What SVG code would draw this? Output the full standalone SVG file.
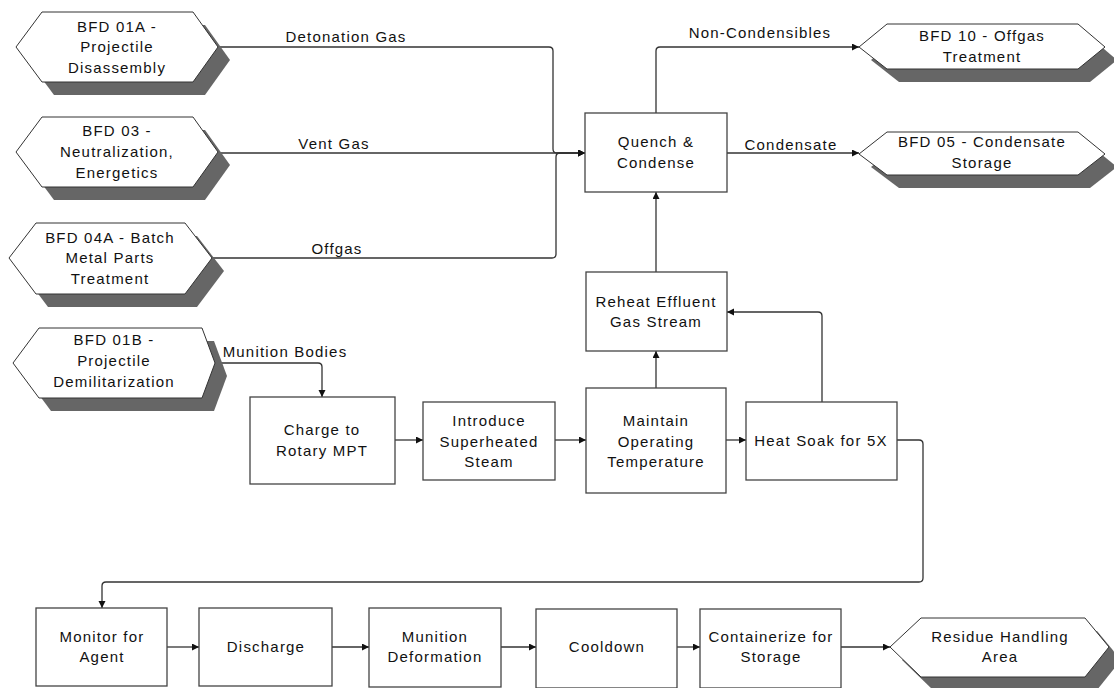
<svg xmlns="http://www.w3.org/2000/svg" width="1114" height="688" viewBox="0 0 1114 688">
<style>
.box{fill:#fff;stroke:#444;stroke-width:1.3}
.hex{fill:#fff;stroke:#333;stroke-width:1}
.sh{fill:#666;stroke:none}
.t{font-family:"Liberation Sans",Arial,sans-serif;font-size:15px;letter-spacing:1.2px;fill:#111;text-anchor:middle}
.c{fill:none;stroke:#333;stroke-width:1.3}
</style>
<defs>
<marker id="ah" markerUnits="userSpaceOnUse" markerWidth="8" markerHeight="8" refX="7" refY="3.5" orient="auto">
<path d="M0,0 L7,3.5 L0,7 z" fill="#111"/>
</marker>
</defs>
<rect width="1114" height="688" fill="#fff"/>
<g id="connectors">
<path class="c" d="M218,47 H549 Q553,47 553,51 V149 Q553,153 557,153 H585" marker-end="url(#ah)"/>
<path class="c" d="M218,153 H585" marker-end="url(#ah)"/>
<path class="c" d="M212,258 H552 Q556,258 556,254 V157 Q556,153 560,153 H585" marker-end="url(#ah)"/>
<path class="c" d="M656,113 V51 Q656,47 660,47 H859" marker-end="url(#ah)"/>
<path class="c" d="M727,153 H859" marker-end="url(#ah)"/>
<path class="c" d="M656,272 V192" marker-end="url(#ah)"/>
<path class="c" d="M656,388 V351" marker-end="url(#ah)"/>
<path class="c" d="M822,402 V316 Q822,312 818,312 H727" marker-end="url(#ah)"/>
<path class="c" d="M215,363 H318 Q322,363 322,367 V397" marker-end="url(#ah)"/>
<path class="c" d="M395,440 H423" marker-end="url(#ah)"/>
<path class="c" d="M555,440 H586" marker-end="url(#ah)"/>
<path class="c" d="M726,440 H746" marker-end="url(#ah)"/>
<path class="c" d="M897,440 H919 Q923,440 923,444 V578 Q923,582 919,582 H106 Q102,582 102,586 V608" marker-end="url(#ah)"/>
<path class="c" d="M167,647 H199" marker-end="url(#ah)"/>
<path class="c" d="M332,647 H369" marker-end="url(#ah)"/>
<path class="c" d="M501,647 H536" marker-end="url(#ah)"/>
<path class="c" d="M677,647 H700" marker-end="url(#ah)"/>
<path class="c" d="M841,647 H890" marker-end="url(#ah)"/>
<text class="t" x="346" y="42">Detonation Gas</text>
<text class="t" x="334" y="149">Vent Gas</text>
<text class="t" x="337" y="254">Offgas</text>
<text class="t" x="760" y="38">Non-Condensibles</text>
<text class="t" x="791" y="150">Condensate</text>
<text class="t" x="285" y="357">Munition Bodies</text>
</g>
<g id="bfd01a">
<polygon class="sh" points="28,60 54,25 205,25 230,60 205,95 54,95"/>
<polygon class="hex" points="16,47 42,12 193,12 218,47 193,82 42,82"/>
<text class="t" x="117" y="32">BFD 01A -</text>
<text class="t" x="117" y="52">Projectile</text>
<text class="t" x="117" y="73">Disassembly</text>
</g>
<g id="bfd03">
<polygon class="sh" points="28,165 54,130 205,130 230,165 205,200 54,200"/>
<polygon class="hex" points="16,152 42,117 193,117 218,152 193,187 42,187"/>
<text class="t" x="117" y="136">BFD 03 -</text>
<text class="t" x="117" y="157">Neutralization,</text>
<text class="t" x="117" y="178">Energetics</text>
</g>
<g id="bfd04a">
<polygon class="sh" points="21,271 48,236 197,236 224,271 197,307 48,307"/>
<polygon class="hex" points="9,258 36,223 185,223 212,258 185,294 36,294"/>
<text class="t" x="110" y="243">BFD 04A - Batch</text>
<text class="t" x="110" y="263">Metal Parts</text>
<text class="t" x="110" y="284">Treatment</text>
</g>
<g id="bfd01b">
<polygon class="sh" points="25,376 51,341 214,341 227,376 214,411 51,411"/>
<polygon class="hex" points="13,363 39,328 202,328 215,363 202,398 39,398"/>
<text class="t" x="114" y="345">BFD 01B -</text>
<text class="t" x="114" y="366">Projectile</text>
<text class="t" x="114" y="387">Demilitarization</text>
</g>
<g id="bfd10">
<polygon class="sh" points="871,60 899,37 1090,37 1117,60 1090,82 899,82"/>
<polygon class="hex" points="859,47 887,24 1078,24 1105,47 1078,69 887,69"/>
<text class="t" x="982" y="41">BFD 10 - Offgas</text>
<text class="t" x="982" y="62">Treatment</text>
</g>
<g id="bfd05">
<polygon class="sh" points="871,167 899,145 1090,145 1117,167 1090,188 899,188"/>
<polygon class="hex" points="859,154 887,132 1078,132 1105,154 1078,175 887,175"/>
<text class="t" x="982" y="147">BFD 05 - Condensate</text>
<text class="t" x="982" y="168">Storage</text>
</g>
<g id="quench">
<rect class="box" x="585" y="113" width="142" height="79"/>
<text class="t" x="656" y="147">Quench &amp;</text>
<text class="t" x="656" y="168">Condense</text>
</g>
<g id="reheat">
<rect class="box" x="586" y="272" width="141" height="79"/>
<text class="t" x="656" y="307">Reheat Effluent</text>
<text class="t" x="656" y="327">Gas Stream</text>
</g>
<g id="charge">
<rect class="box" x="250" y="397" width="145" height="87"/>
<text class="t" x="322" y="435">Charge to</text>
<text class="t" x="322" y="456">Rotary MPT</text>
</g>
<g id="introduce">
<rect class="box" x="423" y="402" width="132" height="78"/>
<text class="t" x="489" y="426">Introduce</text>
<text class="t" x="489" y="447">Superheated</text>
<text class="t" x="489" y="467">Steam</text>
</g>
<g id="maintain">
<rect class="box" x="586" y="388" width="140" height="105"/>
<text class="t" x="656" y="426">Maintain</text>
<text class="t" x="656" y="447">Operating</text>
<text class="t" x="656" y="467">Temperature</text>
</g>
<g id="heatsoak">
<rect class="box" x="746" y="402" width="151" height="78"/>
<text class="t" x="821" y="446">Heat Soak for 5X</text>
</g>
<g id="monitor">
<rect class="box" x="36" y="608" width="131" height="78"/>
<text class="t" x="102" y="642">Monitor for</text>
<text class="t" x="102" y="662">Agent</text>
</g>
<g id="discharge">
<rect class="box" x="199" y="608" width="133" height="78"/>
<text class="t" x="266" y="652">Discharge</text>
</g>
<g id="deformation">
<rect class="box" x="369" y="608" width="132" height="79"/>
<text class="t" x="435" y="642">Munition</text>
<text class="t" x="435" y="662">Deformation</text>
</g>
<g id="cooldown">
<rect class="box" x="536" y="609" width="141" height="79"/>
<text class="t" x="607" y="652">Cooldown</text>
</g>
<g id="containerize">
<rect class="box" x="700" y="609" width="141" height="79"/>
<text class="t" x="771" y="642">Containerize for</text>
<text class="t" x="771" y="662">Storage</text>
</g>
<g id="residue">
<polygon class="sh" points="902,660 933,631 1097,631 1121,660 1097,690 933,690"/>
<polygon class="hex" points="890,647 921,618 1085,618 1109,647 1085,677 921,677"/>
<text class="t" x="1000" y="642">Residue Handling</text>
<text class="t" x="1000" y="662">Area</text>
</g>
</svg>
